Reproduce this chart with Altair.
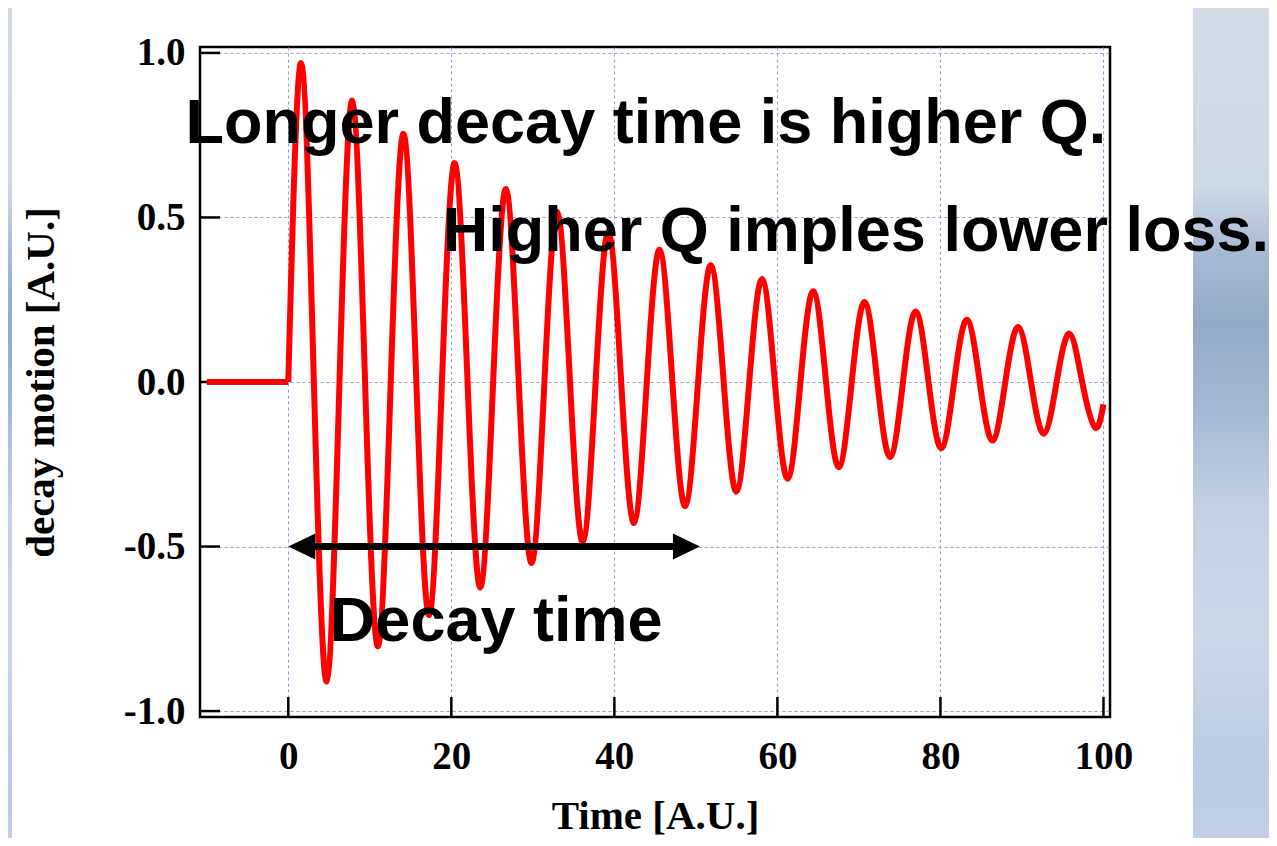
import altair as alt
import pandas as pd

# ---------------- data ----------------
# flat part before excitation
pre_t = [-10.0, 0.0]
pre_v = [0.0, 0.0]

# damped oscillation: zero crossings, peaks and troughs
cross_t = [0.0, 3.14, 6.28, 9.42, 12.57, 15.71, 18.85, 21.99, 25.13, 28.27, 31.42,
           34.56, 37.70, 40.84, 43.98, 47.12, 50.27, 53.41, 56.55, 59.69, 62.83,
           65.97, 69.12, 72.26, 75.40, 78.54, 81.68, 84.82, 87.96, 91.11, 94.25, 97.39]
peak_t = [1.57, 7.85, 14.14, 20.42, 26.70, 32.99, 39.27, 45.55, 51.84, 58.12,
          64.40, 70.69, 76.97, 83.25, 89.54, 95.82]
peak_v = [0.969, 0.855, 0.754, 0.665, 0.586, 0.517, 0.456, 0.402, 0.355, 0.313,
          0.276, 0.243, 0.214, 0.189, 0.167, 0.147]
trough_t = [4.71, 11.00, 17.28, 23.56, 29.85, 36.13, 42.41, 48.69, 54.98, 61.26,
            67.54, 73.83, 80.11, 86.39, 92.68, 98.96]
trough_v = [-0.910, -0.803, -0.708, -0.624, -0.550, -0.486, -0.428, -0.377, -0.333,
            -0.294, -0.259, -0.228, -0.201, -0.178, -0.157, -0.138]
end_t = [100.0]
end_v = [-0.068]

# axis ticks
x_ticks = [0, 20, 40, 60, 80, 100]
y_ticks = [-1.0, -0.5, 0.0, 0.5, 1.0]

# decay-time arrow (data units)
arrow_start = [0.0]
arrow_end = [50.5]
arrow_level = [-0.5]

# annotations (text, left x, baseline y in data units)
ann_text = ["Longer decay time is higher Q.", "Higher Q imples lower loss.", "Decay time"]
ann_t = [-12.6, 18.95, 5.1]
ann_v = [0.725, 0.397, -0.788]

# ---------------- tables ----------------
pre_df = pd.DataFrame({"t": pre_t, "v": pre_v})
pts = ([(t, 0.0) for t in cross_t] + list(zip(peak_t, peak_v)) +
       list(zip(trough_t, trough_v)) + list(zip(end_t, end_v)))
pts.sort(key=lambda p: p[0])
osc_df = pd.DataFrame(pts, columns=["t", "v"])
xt_df = pd.DataFrame({"t": x_ticks})
yt_df = pd.DataFrame({"v": y_ticks})
arrow_df = pd.DataFrame({"t": arrow_start, "t2": arrow_end, "v": arrow_level})
head_l = pd.DataFrame({"t": arrow_start, "v": arrow_level})
head_r = pd.DataFrame({"t": arrow_end, "v": arrow_level})
ann_df = pd.DataFrame({"t": ann_t, "v": ann_v, "label": ann_text})
one = pd.DataFrame({"a": [0]})

# ---------------- scales / axes ----------------
serif = "Liberation Serif"
xs = alt.Scale(domain=[-10.83, 100.8], nice=False, zero=False)
ys = alt.Scale(domain=[-1.018, 1.018], nice=False, zero=False)
grid_kw = dict(grid=True, gridColor="#9a9ad6", gridDash=[3, 3], gridWidth=1,
               domain=False, ticks=False, tickSize=0,
               labelFont=serif, labelFontWeight="bold", labelFontSize=39,
               labelColor="black", titleFont=serif, titleFontWeight="bold",
               titleFontSize=41, titleColor="black")
xaxis = alt.Axis(values=x_ticks, format="d", labelPadding=20,
                 title="Time [A.U.]", titleBaseline="alphabetic", titleY=111,
                 **grid_kw)
yaxis = alt.Axis(values=y_ticks, labelPadding=15, labelAlign="right", labelBaseline="middle",
                 labelExpr="datum.value < 0 ? '-' + format(-datum.value, '.1f') : format(datum.value, '.1f')",
                 title="decay motion [A.U.]", titleBaseline="alphabetic", titleX=-147,
                 **grid_kw)
X = alt.X("t:Q", scale=xs, axis=xaxis)
Y = alt.Y("v:Q", scale=ys, axis=yaxis)

# ---------------- background outside the white slide panel ----------------
sky = alt.Gradient(
    gradient="linear", x1=0, x2=0, y1=0, y2=1,
    stops=[alt.GradientStop(color="#d4dce8", offset=0.0),
           alt.GradientStop(color="#cfd8e5", offset=0.22),
           alt.GradientStop(color="#a6b9d1", offset=0.30),
           alt.GradientStop(color="#93aac6", offset=0.38),
           alt.GradientStop(color="#a3b7d2", offset=0.48),
           alt.GradientStop(color="#c4d0e3", offset=0.60),
           alt.GradientStop(color="#ccd7e8", offset=0.75),
           alt.GradientStop(color="#bccbe3", offset=0.90),
           alt.GradientStop(color="#c2cfe5", offset=1.0)])
bg_right = alt.Chart(one).mark_rect(color=sky).encode(
    x=alt.value(993), x2=alt.value(1100), y=alt.value(-47), y2=alt.value(800))
bg_left = alt.Chart(one).mark_rect(color=sky).encode(
    x=alt.value(-260), x2=alt.value(-188), y=alt.value(-47), y2=alt.value(800))

# ---------------- marks ----------------
red = "#ff0000"
flat = alt.Chart(pre_df).mark_line(color=red, strokeWidth=6).encode(x=X, y=Y)
osc = alt.Chart(osc_df).mark_line(color=red, strokeWidth=6, interpolate="natural").encode(
    x=X, y=Y, order="t:Q")

ytick = alt.Chart(yt_df).mark_rule(color="black", strokeWidth=2.5).encode(
    y=Y, x=alt.value(0), x2=alt.value(20))
xtick = alt.Chart(xt_df).mark_rule(color="black", strokeWidth=2.5).encode(
    x=X, y=alt.value(670), y2=alt.value(650))

arrow_line = alt.Chart(arrow_df).mark_rule(color="black", strokeWidth=7,
                                           xOffset=20, x2Offset=-20).encode(
    x=X, x2="t2:Q", y=Y)
left_path = "M -1 0 L 1 -0.963 L 1 0.963 Z"
right_path = "M 1 0 L -1 -0.963 L -1 0.963 Z"
arrow_l = alt.Chart(head_l).mark_point(shape=left_path, size=729, filled=True, color="black",
                                        opacity=1, strokeWidth=0, xOffset=13.5).encode(x=X, y=Y)
arrow_r = alt.Chart(head_r).mark_point(shape=right_path, size=729, filled=True, color="black",
                                        opacity=1, strokeWidth=0, xOffset=-13.5).encode(x=X, y=Y)

notes = alt.Chart(ann_df).mark_text(font="Liberation Sans", fontWeight="bold", fontSize=63,
                                    align="left", baseline="alphabetic", color="black").encode(
    x=X, y=Y, text="label:N")

chart = alt.layer(
    bg_right, bg_left, ytick, xtick, flat, osc, arrow_line, arrow_l, arrow_r, notes
).properties(
    width=910, height=670,
    autosize=alt.AutoSizeParams(type="none"),
    padding={"left": 192, "top": 39, "right": 159, "bottom": 121},
).configure(background="white").configure_view(stroke="black", strokeWidth=2.5)

chart.save("out.html", embed_options={"renderer": "svg", "actions": False})
